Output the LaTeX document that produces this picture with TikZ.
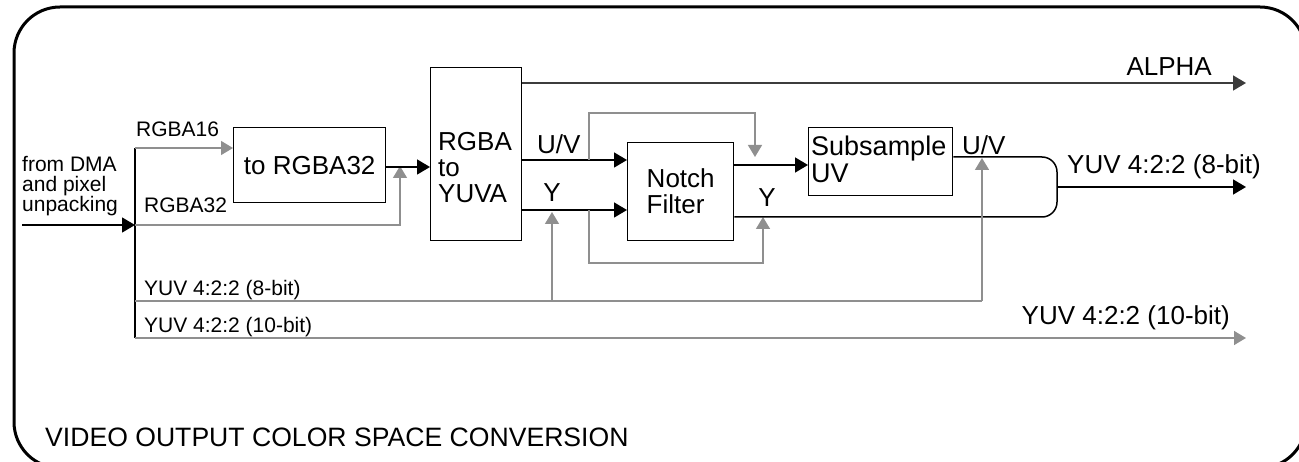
\documentclass[tikz,border=0pt]{standalone}
\usepackage{fontspec}
\setmainfont{Liberation Sans}
\usetikzlibrary{arrows.meta}
\definecolor{lg}{HTML}{8F8F8F}
\definecolor{dg}{HTML}{3C3C3C}
\tikzset{
  bx/.style={draw=black, line width=1.4pt, inner sep=0pt, anchor=north west},
  big/.style={font=\fontsize{26}{26}\selectfont, inner sep=0pt},
  sml/.style={font=\fontsize{21}{20}\selectfont, inner sep=0pt},
  blk/.style={draw=black, line width=1.5pt},
  dgl/.style={draw=dg, line width=1.5pt},
  gry/.style={draw=lg, line width=1.5pt},
  barr/.style={-{Triangle[length=13pt,width=15pt]}},
  garr/.style={-{Triangle[length=12pt,width=14pt]}}
}
\begin{document}
\begin{tikzpicture}[x=1pt,y=-1pt]
\useasboundingbox (0,0) rectangle (1299,462);
% frame
\draw[line width=3pt, rounded corners=46pt] (14,7) rectangle (1306,468);

% boxes
\node[bx, minimum width=152pt, minimum height=75pt] (torgba) at (233,127) {};
\node[big] (torgbaT) at (torgba.center) {to RGBA32};
\node[bx, minimum width=91pt, minimum height=173pt] (yuva) at (430,67) {};
\node[big, align=left, anchor=north] (yuvaT) at (475,132) {RGBA\\to\\YUVA};
\node[bx, minimum width=106pt, minimum height=98pt] (notch) at (627,142) {};
\node[big, align=left] (notchT) at (notch.center) {Notch\\Filter};
\node[bx, minimum width=144pt, minimum height=68pt] (sub) at (808,127) {};
\node[big, font=\fontsize{27}{27}\selectfont, align=left, anchor=north west] (subT) at (811,136) {Subsample\\UV};

% coordinates
\coordinate (busTop) at (135,148);
\coordinate (busIn) at (135,225);
\coordinate (busB8) at (135,301);
\coordinate (busB10) at (135,338);
\coordinate (inStart) at (22,225);
\coordinate (alphaEnd) at (1246,83);
\coordinate (merge) at (1057,187);
\coordinate (outEnd) at (1246,187);
\coordinate (tenEnd) at (1246,338);
\coordinate (tapY) at (552,301);
\coordinate (tapUV) at (982,301);

% left input and bus
\draw[blk] (busTop) -- (busB10);
\draw[blk, barr] (inStart) -- (busIn);
\node[sml, align=left, anchor=north west] (fromT) at (22,156) {from DMA\\and pixel\\unpacking};
\draw[gry, garr] (busTop) -- (torgba.west |- busTop);
\node[sml, anchor=base west] (r16) at (136,137) {RGBA16};
\draw[gry, garr] (busIn) -| (400,166);
\node[sml, anchor=base west] (r32) at (144,213) {RGBA32};
\draw[blk, barr] (torgba.east |- 0,167) -- (yuva.west |- 0,167);

% alpha
\draw[dgl, barr] (yuva.east |- alphaEnd) -- (alphaEnd);
\node[big, anchor=base east] (alphaL) at (1212,76) {ALPHA};

% U/V and Y into notch
\draw[blk, barr] (yuva.east |- 0,160) -- (notch.west |- 0,160);
\draw[blk, barr] (yuva.east |- 0,210) -- (notch.west |- 0,210);
\node[big, anchor=base west] (uv1) at (537,154) {U/V};
\node[big, anchor=base] (y1) at (552,202) {Y};

% bypasses
\draw[gry, garr] (589,160) -- (589,113) -- (755,113) -- (755,157);
\draw[gry, garr] (589,210) -- (589,263) -- (763,263) -- (763,217);

% notch out
\draw[blk, barr] (notch.east |- 0,165) -- (sub.west |- 0,165);
\node[big, anchor=base] (y2) at (767,207) {Y};
\node[big, anchor=base west] (uv2) at (962,155) {U/V};

% merge
\draw[blk, rounded corners=15pt] (sub.east |- 0,157) -- (1057,157) -- (1057,217) -- (notch.east |- 0,217);
\draw[blk, barr] (merge) -- (outEnd);
\node[big, anchor=base west] (o8) at (1067,174) {YUV 4:2:2 (8-bit)};

% YUV buses
\draw[gry] (busB8) -- (tapUV);
\draw[gry, garr] (tapY) -- (552,212);
\draw[gry, garr] (tapUV) -- (982,158);
\node[sml, anchor=base west] (b8) at (144,296) {YUV 4:2:2 (8-bit)};
\draw[gry, garr] (busB10) -- (tenEnd);
\node[sml, anchor=base west] (b10) at (144,333) {YUV 4:2:2 (10-bit)};
\node[big, anchor=base east] (o10) at (1230,325) {YUV 4:2:2 (10-bit)};

% title
\node[big, font=\fontsize{26.6}{27}\selectfont, anchor=base west] (title) at (45,446) {VIDEO OUTPUT COLOR SPACE CONVERSION};
\end{tikzpicture}
\end{document}
